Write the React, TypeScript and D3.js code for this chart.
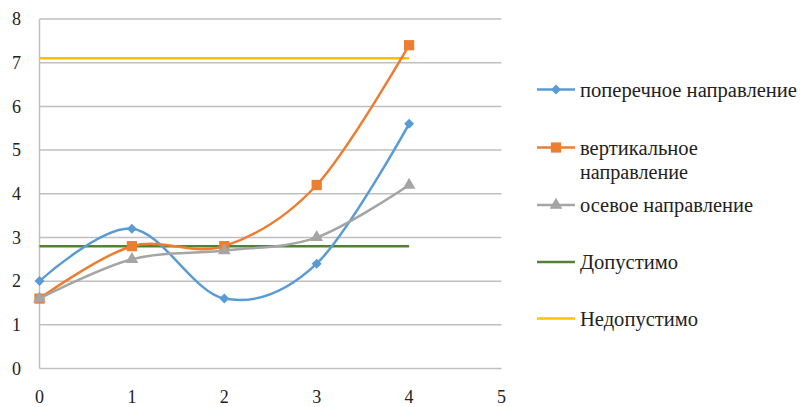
import React from "react";
import * as d3 from "d3";

const xValues = [0, 1, 2, 3, 4];
const transverse = [2, 3.2, 1.6, 2.4, 5.6];
const vertical = [1.6, 2.8, 2.8, 4.2, 7.4];
const axial = [1.6, 2.5, 2.7, 3.0, 4.2];
const allowed = [2.8, 2.8];
const notAllowed = [7.1, 7.1];
const limitX = [0, 4];
const yTicks = [0, 1, 2, 3, 4, 5, 6, 7, 8];
const xTicks = [0, 1, 2, 3, 4, 5];

const W = 800;
const H = 407;
const FONT = "'Liberation Serif', 'DejaVu Serif', 'Noto Serif', 'Times New Roman', serif";

const x = d3.scaleLinear().domain([0, 5]).range([39.5, 501.5]);
const y = d3.scaleLinear().domain([0, 8]).range([368.5, 19]);

type Pt = [number, number];
const smooth = d3
  .line<Pt>()
  .x((d) => x(d[0]))
  .y((d) => y(d[1]))
  .curve(d3.curveCatmullRom.alpha(0));
const straight = d3
  .line<Pt>()
  .x((d) => x(d[0]))
  .y((d) => y(d[1]));

const zip = (xs: number[], ys: number[]): Pt[] => xs.map((v, i) => [v, ys[i]]);

// diamond = square rotated by 45°
const diamond = d3.symbol().type(d3.symbolSquare).size(50)()!;
const square = d3.symbol().type(d3.symbolSquare).size(105)()!;
const triangle = d3.symbol().type(d3.symbolTriangle).size(70)()!;

const BLUE = "#5B9BD5";
const ORANGE = "#ED7D31";
const GRAY = "#A5A5A5";
const GREEN = "#548235";
const YELLOW = "#FFC000";

const series = [
  { values: transverse, color: BLUE, marker: diamond, rotate: 45 },
  { values: vertical, color: ORANGE, marker: square, rotate: 0 },
  { values: axial, color: GRAY, marker: triangle, rotate: 0 },
];

// legend entries: text lines with their set widths
const legend = [
  { lines: ["поперечное направление"], widths: [217], color: BLUE, marker: diamond, rotate: 45, y: 89.5 },
  { lines: ["вертикальное", "направление"], widths: [118, 108], color: ORANGE, marker: square, rotate: 0, y: 147.5 },
  { lines: ["осевое направление"], widths: [173], color: GRAY, marker: triangle, rotate: 0, y: 205 },
  { lines: ["Допустимо"], widths: [98], color: GREEN, marker: null, rotate: 0, y: 262 },
  { lines: ["Недопустимо"], widths: [118], color: YELLOW, marker: null, rotate: 0, y: 318.5 },
];

const textStyle = { fontFamily: FONT };

export default function App() {
  return (
    <svg
      width={W}
      height={H}
      style={{ position: "absolute", left: 0, top: 0, background: "#fff", fontFamily: FONT }}
    >
      {/* horizontal gridlines */}
      {yTicks.map((t) => (
        <line
          key={"g" + t}
          x1={x(0)}
          x2={x(5)}
          y1={y(t)}
          y2={y(t)}
          stroke="#BFBFBF"
          strokeWidth={1.5}
        />
      ))}
      {/* vertical axis */}
      <line x1={x(0)} x2={x(0)} y1={y(8)} y2={y(0)} stroke="#BFBFBF" strokeWidth={1.5} />

      {yTicks.map((t) => (
        <text
          key={"yl" + t}
          x={21}
          y={y(t)}
          dy="0.35em"
          textAnchor="end"
          fontSize={18}
          fill="#222"
          style={textStyle}
        >
          {t}
        </text>
      ))}
      {xTicks.map((t) => (
        <text
          key={"xl" + t}
          x={x(t)}
          y={403}
          textAnchor="middle"
          fontSize={18}
          fill="#222"
          style={textStyle}
        >
          {t}
        </text>
      ))}

      {/* limit lines */}
      <path d={straight(zip(limitX, allowed))!} stroke={GREEN} strokeWidth={2.5} fill="none" />
      <path d={straight(zip(limitX, notAllowed))!} stroke={YELLOW} strokeWidth={2.5} fill="none" />

      {series.map((s, i) => (
        <g key={"s" + i}>
          <path d={smooth(zip(xValues, s.values))!} stroke={s.color} strokeWidth={2.5} fill="none" />
          {s.values.map((v, j) => (
            <path
              key={j}
              d={s.marker}
              transform={`translate(${x(xValues[j])},${y(v)}) rotate(${s.rotate})`}
              fill={s.color}
            />
          ))}
        </g>
      ))}

      {legend.map((l, i) => (
        <g key={"lg" + i}>
          <line x1={537} x2={575} y1={l.y} y2={l.y} stroke={l.color} strokeWidth={2.5} />
          {l.marker && (
            <path
              d={l.marker}
              transform={`translate(556,${l.y}) rotate(${l.rotate})`}
              fill={l.color}
            />
          )}
          {l.lines.map((txt, k) => (
            <text
              key={k}
              x={580}
              y={l.y + k * 24}
              dy="0.35em"
              fontSize={20}
              textLength={l.widths[k]}
              lengthAdjust="spacingAndGlyphs"
              fill="#222"
              style={textStyle}
            >
              {txt}
            </text>
          ))}
        </g>
      ))}
    </svg>
  );
}
